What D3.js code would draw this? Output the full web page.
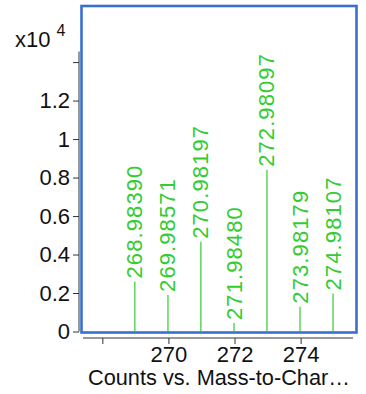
<!DOCTYPE html>
<html>
<head>
<meta charset="utf-8">
<script src="https://cdn.jsdelivr.net/npm/d3@7/dist/d3.min.js"></script>
<style>
  html, body { margin: 0; padding: 0; background: #fff; }
  svg { display: block; font-family: "Liberation Sans", Arial, sans-serif; }
</style>
</head>
<body>
<svg id="chart" width="366" height="394"></svg>
<script>
// Isotope peaks: centroid m/z and abundance (counts)
const peakMz = [268.98390, 269.98571, 270.98197, 271.98480, 272.98097, 273.98179, 274.98107];
const peakCounts = [2600, 1900, 4660, 440, 8400, 1290, 1980];
const peakLabels = ["268.98390", "269.98571", "270.98197", "271.98480", "272.98097", "273.98179", "274.98107"];

// Axis ticks (y in units of x10^4)
const yTicks = [0, 0.2, 0.4, 0.6, 0.8, 1, 1.2, 1.4];
const yTickLabels = ["0", "0.2", "0.4", "0.6", "0.8", "1", "1.2", ""];
const xTicks = [268, 270, 272, 274];
const xTickLabels = ["", "270", "272", "274"];
const xTitle = "Counts vs. Mass-to-Char\u2026";

const svg = d3.select("#chart");
const green = "#33cc33";
const blue = "#3a6fcf";

const x = d3.scaleLinear().domain([267.415, 275.585]).range([83, 353]);
const y = d3.scaleLinear().domain([0, 1.455]).range([331.5, 51.5]);

// Plot frame
svg.append("rect")
  .attr("x", 81.5).attr("y", 6)
  .attr("width", 275).attr("height", 326.5)
  .attr("fill", "none").attr("stroke", blue).attr("stroke-width", 2.6);

// Y axis
const yAxis = d3.axisLeft(y)
  .tickValues(yTicks)
  .tickFormat((d, i) => yTickLabels[i])
  .tickSize(6).tickPadding(3);
const gy = svg.append("g").attr("transform", "translate(79,0)").call(yAxis);
gy.select(".domain").attr("d", `M0,${y.range()[1]}V${y(0)}`).attr("stroke", "#333");
gy.selectAll(".tick line").attr("stroke", "#333");
gy.selectAll(".tick text").attr("font-size", 22).attr("fill", "#111")
  .attr("font-family", "Liberation Sans, Arial, sans-serif");

// Exponent label
const expo = svg.append("text").attr("x", 15).attr("y", 47)
  .attr("font-size", 22).attr("fill", "#111");
expo.append("tspan").text("x10");
expo.append("tspan").attr("dx", 6).attr("dy", -11).attr("font-size", 16).text("4");

// X axis
const xAxis = d3.axisBottom(x)
  .tickValues(xTicks)
  .tickFormat((d, i) => xTickLabels[i])
  .tickSize(6).tickPadding(2);
const gx = svg.append("g").attr("transform", "translate(0,338)").call(xAxis);
gx.select(".domain").attr("d", `M${x.range()[0]},0H${x.range()[1]}`).attr("stroke", "#333");
gx.selectAll(".tick line").attr("stroke", "#333");
gx.selectAll(".tick text").attr("font-size", 22).attr("fill", "#111")
  .attr("font-family", "Liberation Sans, Arial, sans-serif");

svg.append("text")
  .attr("x", 219).attr("y", 385)
  .attr("text-anchor", "middle")
  .attr("font-size", 22).attr("fill", "#111")
  .attr("textLength", 262).attr("lengthAdjust", "spacingAndGlyphs")
  .text(xTitle);

// Peak sticks
const peaks = peakMz.map((mz, i) => ({ mz, v: peakCounts[i] / 1e4, label: peakLabels[i] }));
svg.append("g").selectAll("line").data(peaks).join("line")
  .attr("x1", d => x(d.mz)).attr("x2", d => x(d.mz))
  .attr("y1", y(0)).attr("y2", d => y(d.v))
  .attr("stroke", green).attr("stroke-width", 1.2);

// Peak labels, rotated above each stick
svg.append("g").selectAll("text").data(peaks).join("text")
  .attr("transform", d => `translate(${x(d.mz)},${y(d.v) - 3}) rotate(-90)`)
  .attr("dominant-baseline", "central")
  .attr("font-size", 22).attr("letter-spacing", 1.1)
  .attr("fill", green)
  .text(d => d.label);
</script>
</body>
</html>
